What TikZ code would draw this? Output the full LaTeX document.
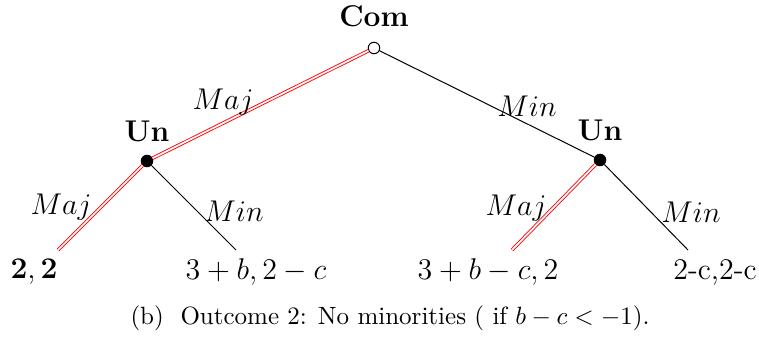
\documentclass[tikz,border=0pt]{standalone}
\usetikzlibrary{positioning}
\tikzset{
  pick/.style={draw=red,double=white,double distance=0.7pt,line width=0.35pt},
  move/.style={draw=black,line width=0.4pt},
  lbl/.style={inner sep=0pt,font=\fontsize{12}{14}\selectfont},
}
\begin{document}
\begin{tikzpicture}[x=0.4pt,y=-0.4pt,node distance=0.4cm]
  \useasboundingbox (0,0) rectangle (759,339);
  \node[draw,circle,fill=white,inner sep=0pt,minimum size=4.6pt] (com) at (374,48) {};
  \node[draw,circle,fill=black,inner sep=0pt,minimum size=4.6pt] (unl) at (147,161) {};
  \node[draw,circle,fill=black,inner sep=0pt,minimum size=4.6pt] (unr) at (600,160) {};
  \node[lbl,above of=com,node distance=0.44cm] {\textbf{Com}};
  \node[lbl,above of=unl,node distance=0.42cm] {\textbf{Un}};
  \node[lbl,above of=unr,node distance=0.42cm] {\textbf{Un}};
  \coordinate (ll) at (58,250);
  \coordinate (lr) at (236,250);
  \coordinate (rl) at (512,250);
  \coordinate (rr) at (688,250);
  \draw[pick] (com) -- (unl);
  \draw[move] (com) -- (unr);
  \draw[pick] (unl) -- (ll);
  \draw[move] (unl) -- (lr);
  \draw[pick] (unr) -- (rl);
  \draw[move] (unr) -- (rr);
  % edge labels
  \node[lbl] (a1) at (223,102) {$Maj$};
  \node[lbl] (a2) at (527,106) {$Min$};
  \node[lbl] (b1) at (61,207) {$Maj$};
  \node[lbl] (b2) at (234,211) {$Min$};
  \node[lbl] (c1) at (516,208) {$Maj$};
  \node[lbl] (c2) at (691,212) {$Min$};
  % payoffs
  \node[lbl] (p1) at (34,272) {$\mathbf{2},\mathbf{2}$};
  \node[lbl] (p2) at (256,272) {$3+b,2-c$};
  \node[lbl] (p3) at (488,272) {$3+b-c,2$};
  \node[lbl] (p4) at (715,272) {2-c,2-c};
  \node[inner sep=0pt,font=\fontsize{10}{12}\selectfont] (cap) at (390,318)
    {(b)\ \ Outcome 2: No minorities ( if $b-c<-1$).};
\end{tikzpicture}
\end{document}
